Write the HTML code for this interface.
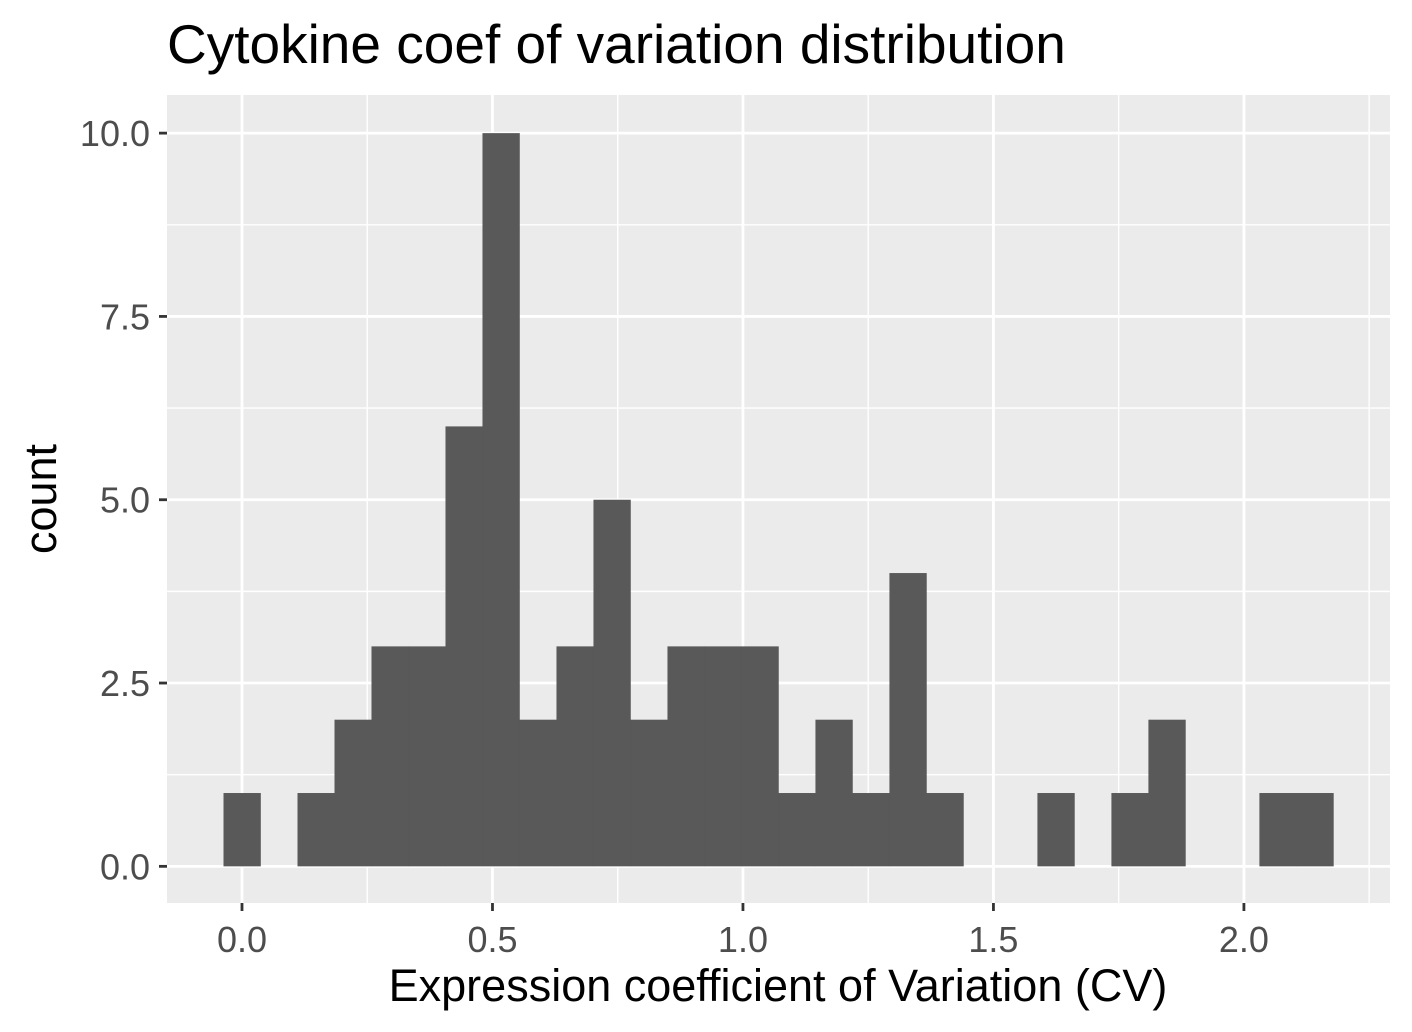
<!DOCTYPE html>
<html><head><meta charset="utf-8"><style>
html,body{margin:0;padding:0;background:#fff;}
svg{display:block;font-family:"Liberation Sans",Arial,sans-serif;}
</style></head><body>
<svg id="chart" width="1412" height="1032" viewBox="0 0 1412 1032">
<text x="167" y="63" style="font-size:55px" fill="#000">Cytokine coef of variation distribution</text>
<rect x="167" y="95" width="1223" height="808" fill="#ebebeb"/>
<g id="grid"></g>
<g id="bars"></g>
<g id="axes"></g>
<text x="778" y="1001" style="font-size:45px" fill="#000" text-anchor="middle">Expression coefficient of Variation (CV)</text>
<text transform="translate(56,499) rotate(-90)" style="font-size:45px" fill="#000" text-anchor="middle">count</text>
</svg>
<script>
const binStart = -0.0369;
const binWidth = 0.07385;
const counts = [1,0,1,2,3,3,6,10,2,3,5,2,3,3,3,1,2,1,4,1,0,0,1,0,1,2,0,0,1,1];
const xTicks = [0, 0.5, 1.0, 1.5, 2.0];
const xTickLabels = ["0.0","0.5","1.0","1.5","2.0"];
const yTicks = [0, 2.5, 5, 7.5, 10];
const yTickLabels = ["0.0","2.5","5.0","7.5","10.0"];

const NS = "http://www.w3.org/2000/svg";
const px0 = 167, px1 = 1390, py0 = 95, py1 = 903;
const xMin = -0.1497, xMax = 2.2916, yMin = -0.5, yMax = 10.52;
function sx(v){ return px0 + (v - xMin) / (xMax - xMin) * (px1 - px0); }
function sy(v){ return py1 - (v - yMin) / (yMax - yMin) * (py1 - py0); }
function mk(tag, attrs, parent){ const e = document.createElementNS(NS, tag); for (const k in attrs) e.setAttribute(k, attrs[k]); parent.appendChild(e); return e; }

const grid = document.getElementById('grid');
const bars = document.getElementById('bars');
const axes = document.getElementById('axes');

for (let i = 0; i < xTicks.length + 1; i++) {
  const v = -0.25 + i * 0.5;
  if (v < xMin || v > xMax) continue;
  const l = mk('line', {x1: sx(v), x2: sx(v), y1: py0, y2: py1, stroke: '#fff', 'stroke-width': 1.4}, grid);
  
  
}
for (let i = 0; i < yTicks.length; i++) {
  const v = yTicks[i] + 1.25;
  if (v > yMax) continue;
  const l = mk('line', {x1: px0, x2: px1, y1: sy(v), y2: sy(v), stroke: '#fff', 'stroke-width': 1.4}, grid);
  
  
}
xTicks.forEach((v, i) => {
  const l = mk('line', {x1: sx(v), x2: sx(v), y1: py0, y2: py1, stroke: '#fff', 'stroke-width': 2.8}, grid);
  
  
  const t = mk('line', {x1: sx(v), x2: sx(v), y1: py1, y2: py1 + 8, stroke: '#333', 'stroke-width': 2.8}, axes);
  
  
  const tx = mk('text', {x: sx(v), y: 952, fill: '#4d4d4d', 'text-anchor': 'middle', style: 'font-size:36px'}, axes);
  tx.textContent = xTickLabels[i];
  
  
});
yTicks.forEach((v, i) => {
  const l = mk('line', {x1: px0, x2: px1, y1: sy(v), y2: sy(v), stroke: '#fff', 'stroke-width': 2.8}, grid);
  
  
  const t = mk('line', {x1: px0 - 8, x2: px0, y1: sy(v), y2: sy(v), stroke: '#333', 'stroke-width': 2.8}, axes);
  
  
  const tx = mk('text', {x: px0 - 17, y: sy(v) + 13, fill: '#4d4d4d', 'text-anchor': 'end', style: 'font-size:36px'}, axes);
  tx.textContent = yTickLabels[i];
  
  
});
counts.forEach((c, i) => {
  if (c <= 0) return;
  const a = binStart + i * binWidth, b = a + binWidth;
  const r = mk('rect', {x: sx(a), y: sy(c), width: sx(b) - sx(a) + 0.3, height: sy(0) - sy(c), fill: '#595959'}, bars);
  
  
});
</script>
</body></html>
